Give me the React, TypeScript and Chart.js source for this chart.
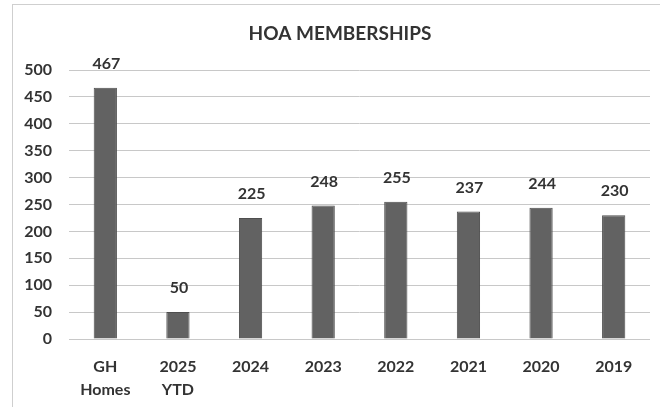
import React, { useEffect, useRef } from "react";
import { Chart, registerables } from "chart.js";

Chart.register(...registerables);

const categories: (string | string[])[] = [["GH", "Homes"], ["2025", "YTD"], "2024", "2023", "2022", "2021", "2020", "2019"];
const memberships = [467, 50, 225, 248, 255, 237, 244, 230];
const chartTitle = "HOA MEMBERSHIPS";
const yMin = 0;
const yMax = 500;
const yStep = 50;

const FONT = "Lato, 'Open Sans', sans-serif";
const TEXT = "#333333";

const labelsPlugin = {
  id: "barValueLabels",
  afterDatasetsDraw(chart: any) {
    const ctx = chart.ctx;
    const meta = chart.getDatasetMeta(0);
    ctx.save();
    ctx.font = `bold 16px ${FONT}`;
    ctx.fillStyle = TEXT;
    ctx.textAlign = "center";
    ctx.textBaseline = "bottom";
    meta.data.forEach((bar: any, i: number) => {
      ctx.fillText(String(memberships[i]), bar.x + 1, bar.y - 16);
    });
    ctx.restore();
  },
};

const titlePlugin = {
  id: "customTitle",
  afterDraw(chart: any) {
    const ctx = chart.ctx;
    ctx.save();
    ctx.font = `bold 19px ${FONT}`;
    ctx.fillStyle = TEXT;
    ctx.textAlign = "center";
    ctx.textBaseline = "middle";
    ctx.fillText(chartTitle, 340, 34);
    ctx.restore();
  },
};

export default function App() {
  const ref = useRef<HTMLCanvasElement | null>(null);
  useEffect(() => {
    if (!ref.current) return;
    const chart = new Chart(ref.current, {
      type: "bar",
      data: {
        labels: categories,
        datasets: [
          {
            data: memberships,
            backgroundColor: "#626262",
            borderColor: "#4e4e4e",
            borderWidth: 1,
            categoryPercentage: 1,
            barPercentage: 0.32,
          },
        ],
      },
      options: {
        animation: false,
        responsive: false,
        maintainAspectRatio: false,
        layout: { padding: { top: 70, right: 10, left: 0, bottom: 0 } },
        plugins: { legend: { display: false }, tooltip: { enabled: false }, title: { display: false } },
        scales: {
          x: {
            grid: { display: false },
            border: { display: false },
            ticks: { color: TEXT, font: { family: FONT, size: 16, weight: "bold", lineHeight: 1.4 }, padding: 9, maxRotation: 0 },
            afterFit: (s: any) => { s.height = 68; },
          },
          y: {
            min: yMin,
            max: yMax,
            ticks: { stepSize: yStep, color: TEXT, font: { family: FONT, size: 16, weight: "bold" }, padding: 17 },
            grid: { color: "#c8c8c8", lineWidth: 1, drawTicks: false },
            border: { display: false },
            afterFit: (s: any) => { s.width = 69; },
          },
        },
      },
      plugins: [labelsPlugin, titlePlugin],
    });
    return () => chart.destroy();
  }, []);
  return (
    <div style={{ position: "absolute", left: 0, top: 0, width: 660, height: 407, background: "#fff", overflow: "hidden" }}>
      <div style={{ position: "absolute", left: 12, top: 4, width: 650, height: 420, border: "1px solid #cfcfcf", boxSizing: "border-box" }} />
      <canvas ref={ref} width={660} height={407} style={{ position: "absolute", left: 0, top: 0, width: 660, height: 407 }} />
    </div>
  );
}
